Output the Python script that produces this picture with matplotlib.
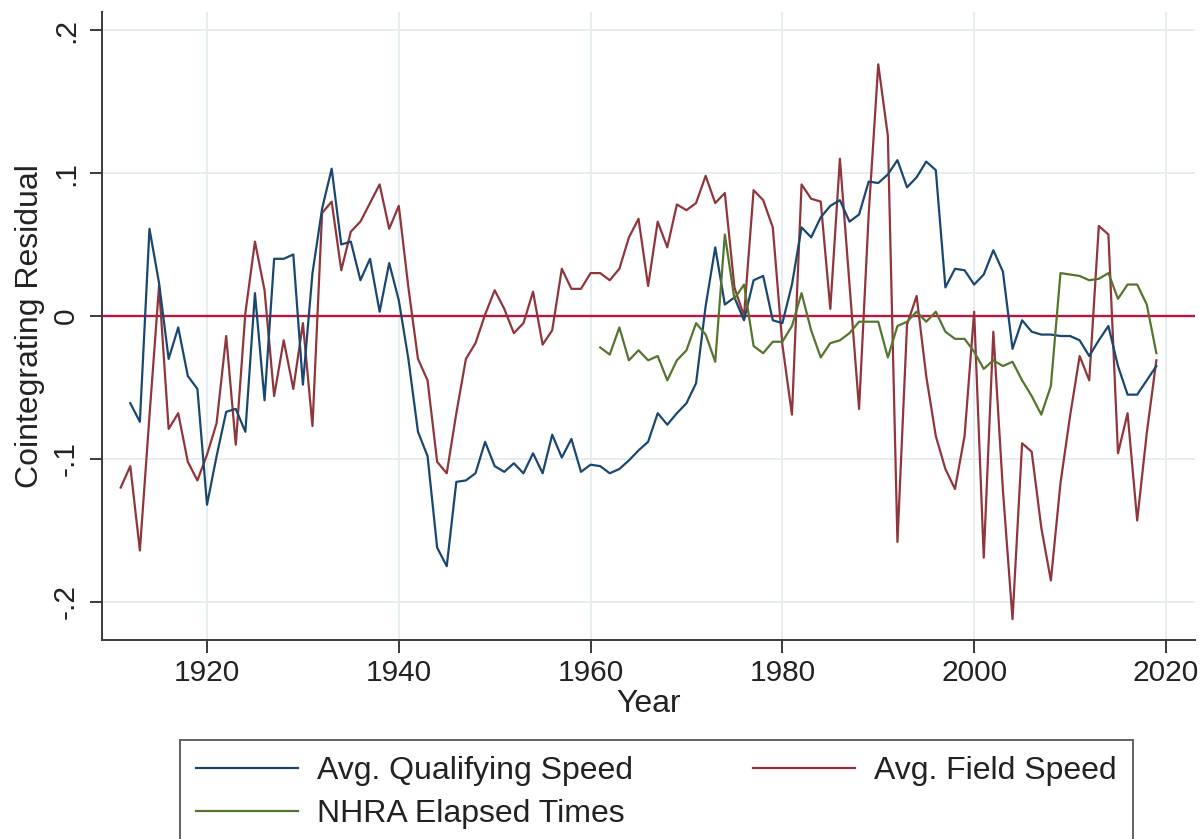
import numpy as np
import matplotlib
matplotlib.use("Agg")
from matplotlib import pyplot as plt

plt.rcParams['font.family'] = ['Liberation Sans', 'DejaVu Sans']

# Cointegrating residuals by year
qual_years = np.arange(1912, 2020)
qual_speed = [
    -0.061, -0.074, 0.061, 0.023, -0.030, -0.008, -0.042, -0.051, -0.132, -0.098,
    -0.067, -0.065, -0.081, 0.016, -0.059, 0.040, 0.040, 0.043, -0.048, 0.030,
    0.075, 0.103, 0.050, 0.052, 0.025, 0.040, 0.003, 0.037, 0.011, -0.030,
    -0.081, -0.098, -0.162, -0.175, -0.116, -0.115, -0.110, -0.088, -0.105, -0.109,
    -0.103, -0.110, -0.096, -0.110, -0.083, -0.099, -0.086, -0.109, -0.104, -0.105,
    -0.110, -0.107, -0.101, -0.094, -0.088, -0.068, -0.076, -0.068, -0.061, -0.047,
    0.007, 0.048, 0.008, 0.013, -0.003, 0.025, 0.028, -0.003, -0.005, 0.022,
    0.062, 0.055, 0.069, 0.077, 0.081, 0.066, 0.071, 0.094, 0.093, 0.099,
    0.109, 0.090, 0.097, 0.108, 0.102, 0.020, 0.033, 0.032, 0.022, 0.029,
    0.046, 0.031, -0.023, -0.003, -0.011, -0.013, -0.013, -0.014, -0.014, -0.017,
    -0.028, -0.017, -0.007, -0.035, -0.055, -0.055, -0.045, -0.035,
]

field_years = np.arange(1911, 2020)
field_speed = [
    -0.120, -0.105, -0.164, -0.070, 0.021, -0.079, -0.068, -0.102, -0.115, -0.097,
    -0.075, -0.014, -0.090, 0.002, 0.052, 0.018, -0.056, -0.017, -0.051, -0.005,
    -0.077, 0.072, 0.080, 0.032, 0.059, 0.066, 0.079, 0.092, 0.061, 0.077,
    0.020, -0.030, -0.045, -0.102, -0.110, -0.068, -0.030, -0.019, 0.001, 0.018,
    0.005, -0.012, -0.005, 0.017, -0.020, -0.010, 0.033, 0.019, 0.019, 0.030,
    0.030, 0.025, 0.033, 0.055, 0.068, 0.021, 0.066, 0.048, 0.078, 0.074,
    0.079, 0.098, 0.079, 0.086, 0.020, 0.000, 0.088, 0.081, 0.062, -0.020,
    -0.069, 0.092, 0.082, 0.080, 0.005, 0.110, 0.022, -0.065, 0.071, 0.176,
    0.126, -0.158, -0.006, 0.014, -0.042, -0.084, -0.107, -0.121, -0.084, 0.003,
    -0.169, -0.011, -0.122, -0.212, -0.089, -0.095, -0.148, -0.185, -0.117, -0.070,
    -0.028, -0.045, 0.063, 0.057, -0.096, -0.068, -0.143, -0.082, -0.031,
]

nhra_years = np.arange(1961, 2020)
nhra_times = [
    -0.022, -0.027, -0.008, -0.031, -0.024, -0.031, -0.028, -0.045, -0.031, -0.024,
    -0.005, -0.013, -0.032, 0.057, 0.012, 0.022, -0.021, -0.026, -0.018, -0.018,
    -0.007, 0.016, -0.010, -0.029, -0.019, -0.017, -0.012, -0.004, -0.004, -0.004,
    -0.029, -0.007, -0.004, 0.003, -0.004, 0.003, -0.011, -0.016, -0.016, -0.025,
    -0.037, -0.031, -0.035, -0.032, -0.045, -0.056, -0.069, -0.049, 0.030, 0.029,
    0.028, 0.025, 0.026, 0.030, 0.012, 0.022, 0.022, 0.008, -0.026,
]

x_ticks = [1920, 1940, 1960, 1980, 2000, 2020]
y_ticks = [-0.2, -0.1, 0, 0.1, 0.2]
y_tick_labels = ['-.2', '-.1', '0', '.1', '.2']

navy = '#1a476f'
maroon = '#90353b'
green = '#55752f'
fs_tick = 21.5
fs_text = 23

fig = plt.figure(figsize=(12.04, 8.39), dpi=100)
ax = fig.add_axes([102 / 1204, 1 - 640 / 839, 1093 / 1204, 628 / 839])

ax.grid(True, color='#e4ecef', lw=1.3)
ax.axhline(0, color='#b8173f', lw=1.7, zorder=2)

l1, = ax.plot(qual_years, qual_speed, color=navy, lw=1.6, zorder=4)
l2, = ax.plot(field_years, field_speed, color=maroon, lw=1.6, zorder=3)
l3, = ax.plot(nhra_years, nhra_times, color=green, lw=1.6, zorder=4)

ax.set_xlim(1909.05, 2023.03)
ax.set_ylim(-0.2266, 0.2126)
ax.set_xticks(x_ticks)
ax.set_yticks(y_ticks)
ax.set_yticklabels(y_tick_labels, rotation=90, va='center')

for s in ['top', 'right']:
    ax.spines[s].set_visible(False)
for s in ['left', 'bottom']:
    ax.spines[s].set_color('#3a3a3a')
    ax.spines[s].set_linewidth(1.4)
ax.tick_params(direction='out', length=9, width=1.4, color='#3a3a3a',
               labelsize=fs_tick, labelcolor='#222222')
ax.tick_params(axis='x', pad=5)
ax.tick_params(axis='y', pad=7)

ax.set_xlabel('Year', fontsize=fs_text, color='#222222', labelpad=1)
ax.set_ylabel('Cointegrating Residual', fontsize=fs_text, color='#222222', labelpad=5)

# column-major fill: blue/green in the first column, maroon in the second
leg = fig.legend([l1, l3, l2],
                 ['Avg. Qualifying Speed', 'NHRA Elapsed Times', 'Avg. Field Speed'],
                 ncol=2, mode='expand', loc='upper left',
                 bbox_to_anchor=(180 / 1204, 0, 953 / 1204, 1 - 740 / 839),
                 bbox_transform=fig.transFigure, fontsize=fs_text,
                 frameon=True, fancybox=False, handlelength=3.2,
                 handletextpad=0.6, labelspacing=0.42, borderpad=0.5,
                 borderaxespad=0)
leg.get_frame().set_edgecolor('#3a3a3a')
leg.get_frame().set_linewidth(1.4)
for t in leg.get_texts():
    t.set_color('#222222')

fig.savefig('out.png', dpi=100)
